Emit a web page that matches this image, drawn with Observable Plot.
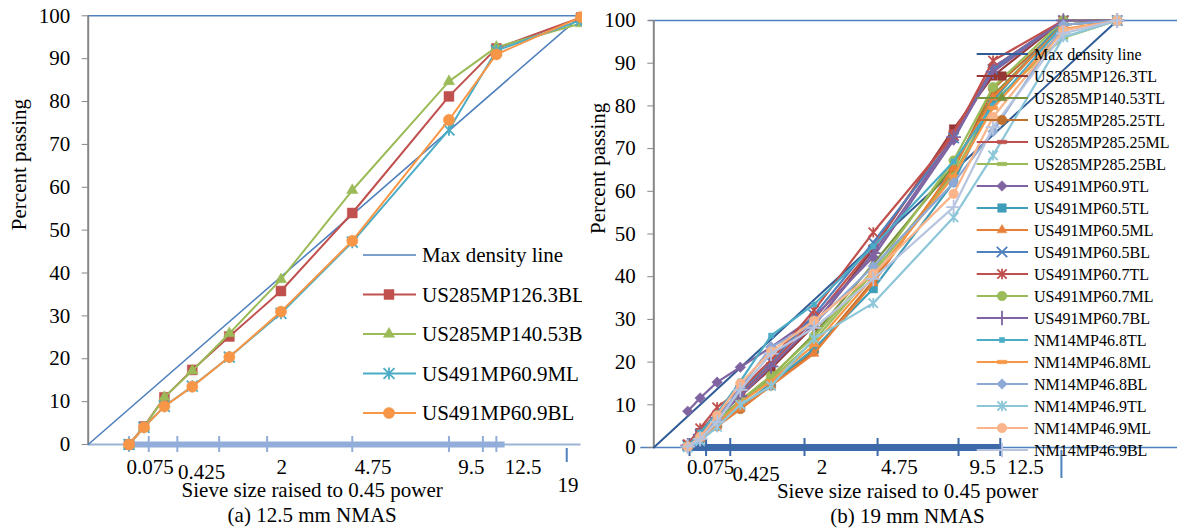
<!DOCTYPE html>
<html><head><meta charset="utf-8">
<script src="https://cdn.jsdelivr.net/npm/d3@7"></script>
<script src="https://cdn.jsdelivr.net/npm/@observablehq/plot@0.6"></script>
<style>
html,body{margin:0;padding:0;background:#fff;}
#wrap{position:relative;width:1177px;height:529px;overflow:hidden;font-family:"Liberation Serif","Times New Roman",serif;}
#left{position:absolute;left:0;top:0;}
#right{position:absolute;left:584px;top:0;}
</style></head><body><div id="wrap"><div id="left"></div><div id="right"></div></div>
<script>
// ---------------- DATA ----------------
// Panel (a) 12.5 mm NMAS
const sievesA = [0.075, 0.15, 0.3, 0.6, 1.18, 2.36, 4.75, 9.5, 12.5, 19];
const maxDensityA = {sieve: [0, 19], pct: [0, 100]};
const US285MP126_3BL  = [0, 4.2, 11, 17.4, 25.2, 35.8, 54, 81.2, 92.4, 99.6];
const US285MP140_53BL = [0, 4, 11, 17.2, 25.9, 38.5, 59.3, 84.7, 92.7, 98.2];
const US491MP60_9ML   = [0, 4, 8.9, 13.6, 20.4, 30.6, 47.2, 73.4, 91.9, 99];
const US491MP60_9BL   = [0, 4, 8.9, 13.5, 20.4, 31, 47.5, 75.7, 91, 99.7];
const namesA = ["US285MP126.3BL", "US285MP140.53BL", "US491MP60.9ML", "US491MP60.9BL"];
const valuesA = [US285MP126_3BL, US285MP140_53BL, US491MP60_9ML, US491MP60_9BL];
const tickPosA = [0.075, 0.18, 0.425, 1, 2, 4.75, 9.5, 11.6, 12.5];
const loneTickA = [17.8];
const axisBarA = [0.075, 13.1];
const tickLabelsA = ["0.075", "0.425", "2", "4.75", "9.5", "12.5", "19"];
const tickLabelAtA = [0.19, 0.726, 2.38, 5.62, 10.87, 14.4, 17.9];

// Panel (b) 19 mm NMAS
const sievesB = [0.075, 0.15, 0.3, 0.6, 1.18, 2.36, 4.75, 9.5, 12.5, 19, 25];
const maxDensityB = {sieve: [0, 25], pct: [0, 100]};
const US285MP126_3TL  = [0.5, 3.5, 7.5, 12, 18.5, 28.5, 46.5, 74.6, 87, 100, 100];
const US285MP140_53TL = [0.3, 3, 6.5, 11, 16.5, 26.5, 43, 66, 82.5, 99, 100];
const US285MP285_25TL = [0.2, 2, 5, 9, 14.5, 22.5, 39, 65, 84, 99, 100];
const US285MP285_25ML = [0.5, 4, 8, 12.5, 19.5, 30, 47, 74, 89, 100, 100];
const US285MP285_25BL = [0.3, 2.5, 6, 10.5, 16, 25, 41, 64, 81, 96, 100];
const US491MP60_9TL   = [8.5, 11.6, 15.3, 18.8, 23.5, 30.5, 44.6, 72, 89, 100, 100];
const US491MP60_5TL   = [0.3, 2, 5.5, 9.5, 15, 23.1, 37.2, 62.1, 81.3, 100, 100];
const US491MP60_5ML   = [0.2, 2, 5, 9, 14.5, 22, 38.5, 65.5, 82, 99, 100];
const US491MP60_5BL   = [0.5, 3, 7, 13, 20, 31, 48, 72.5, 88.5, 100, 100];
const US491MP60_7TL   = [0.8, 4.5, 9.4, 13.5, 20.5, 32.1, 50.4, 73, 90.6, 100, 100];
const US491MP60_7ML   = [0.3, 2.5, 6, 11, 16.8, 26, 41.5, 67.2, 84.4, 100, 100];
const US491MP60_7BL   = [0.5, 3, 7, 12, 19, 29, 45.5, 72.7, 88, 100, 100];
const NM14MP46_8TL    = [0.3, 3.5, 8, 15.5, 26.2, 33.5, 47.1, 67, 80, 99, 100];
const NM14MP46_8ML    = [0.2, 2, 5.5, 10.5, 15.5, 24, 40, 63.5, 79.5, 98, 100];
const NM14MP46_8BL    = [0.2, 2, 6.5, 14, 23.5, 29, 42.4, 62, 74, 99, 100];
const NM14MP46_9TL    = [0, 1.5, 4.8, 10, 14.4, 25.5, 33.8, 53.9, 68.4, 96.1, 100];
const NM14MP46_9ML    = [0.2, 2.5, 7.5, 15, 22.5, 29.7, 40.7, 59.4, 77.4, 97.7, 100];
const NM14MP46_9BL    = [0.2, 2, 6, 13.5, 22, 28, 39.5, 56.3, 75, 97, 100];
const namesB = ["US285MP126.3TL","US285MP140.53TL","US285MP285.25TL","US285MP285.25ML","US285MP285.25BL",
  "US491MP60.9TL","US491MP60.5TL","US491MP60.5ML","US491MP60.5BL","US491MP60.7TL","US491MP60.7ML",
  "US491MP60.7BL","NM14MP46.8TL","NM14MP46.8ML","NM14MP46.8BL","NM14MP46.9TL","NM14MP46.9ML","NM14MP46.9BL"];
const valuesB = [US285MP126_3TL, US285MP140_53TL, US285MP285_25TL, US285MP285_25ML, US285MP285_25BL,
  US491MP60_9TL, US491MP60_5TL, US491MP60_5ML, US491MP60_5BL, US491MP60_7TL, US491MP60_7ML,
  US491MP60_7BL, NM14MP46_8TL, NM14MP46_8ML, NM14MP46_8BL, NM14MP46_9TL, NM14MP46_9ML, NM14MP46_9BL];
const tickPosB = [0.084, 0.196, 0.456, 2.06, 4.96, 9.85, 13.1];
const loneTickB = [18.8];
const axisBarB = [0.075, 13.1];
const tickLabelsB = ["0.075", "0.425", "2", "4.75", "9.5", "12.5"];
const tickLabelAtB = [0.235, 0.871, 2.63, 6.1, 11.66, 15.3];

const yTicks = [0, 10, 20, 30, 40, 50, 60, 70, 80, 90, 100];
const maxLabel = "Max density line";
const xTitle = "Sieve size raised to 0.45 power";
const yTitle = "Percent passing";
const captionA = "(a) 12.5 mm NMAS";
const captionB = "(b) 19 mm NMAS";

// ---------------- STYLES ----------------
const colorsA = ["#C0504D", "#9BBB59", "#4BACC6", "#F79646"];
const symbolsA = ["square", "triangle", "star", "circle"];
const colorsB = ["#953735","#77933C","#C0702E","#C0504D","#9BBB59","#8064A2","#3E9DB8","#E8803A","#4F81BD",
  "#C0504D","#9BBB59","#8064A2","#4BACC6","#F79646","#8EA9D5","#8CC6D9","#F9B48A","#B7C4E0"];
const symbolsB = ["square","triangle","circle","dash","dash","diamond","square","triangle","times","star",
  "circle","plus","smallsq","dash","diamond","star","circle","plus"];

const excelStar = {draw(ctx, size){ const r = Math.sqrt(size)*0.55;
  ctx.moveTo(-r,-r); ctx.lineTo(r,r); ctx.moveTo(-r,r); ctx.lineTo(r,-r); ctx.moveTo(0,-r*1.1); ctx.lineTo(0,r*1.1);} };
const dashSym = {draw(ctx, size){ const w = Math.sqrt(size)*1.1, h = w*0.38; ctx.rect(-w/2,-h/2,w,h);} };
const smallSq = {draw(ctx, size){ const w = Math.sqrt(size)*0.6; ctx.rect(-w/2,-w/2,w,w);} };
const SYM = {square: d3.symbolSquare, triangle: d3.symbolTriangle, circle: d3.symbolCircle, diamond: d3.symbolDiamond2,
  times: d3.symbolTimes, star: excelStar, plus: d3.symbolPlus, dash: dashSym, smallsq: smallSq};
const STROKED = new Set(["times", "star", "plus"]);
const FONT = '"Liberation Serif","Times New Roman",serif';

function symR(sym, base) { return sym === "triangle" ? base*0.75 : base; }

function seriesMarks(sieves, names, values, colors, symbols, baseR, lw) {
  const marks = [];
  names.forEach((name, i) => {
    const rows = sieves.map((s, j) => ({sieve: s, pct: values[i][j]}));
    marks.push(Plot.line(rows, {x: "sieve", y: "pct", stroke: colors[i], strokeWidth: lw}));
    const sym = symbols[i];
    const o = {x: "sieve", y: "pct", symbol: SYM[sym], r: symR(sym, baseR)};
    if (STROKED.has(sym)) Object.assign(o, {fill: "none", stroke: colors[i], strokeWidth: 1.8});
    else Object.assign(o, {fill: colors[i], stroke: colors[i], strokeWidth: 0.5});
    marks.push(Plot.dot(rows, o));
  });
  return marks;
}

function drawLegend(svg, items, o) {
  const g = d3.select(svg).append("g").attr("font-family", FONT).attr("font-size", o.fontSize)
    .attr("text-anchor", "start");
  items.forEach((it, i) => {
    const y = o.y0 + i*o.step;
    g.append("line").attr("x1", o.x1).attr("x2", o.x2).attr("y1", y).attr("y2", y)
      .attr("stroke", it.color).attr("stroke-width", it.lw || o.lw);
    if (it.symbol) {
      const r = symR(it.symbol, o.r);
      const p = g.append("path").attr("transform", `translate(${o.xm},${y})`)
        .attr("d", d3.symbol(SYM[it.symbol], Math.PI*r*r)());
      if (STROKED.has(it.symbol)) p.attr("fill", "none").attr("stroke", it.color).attr("stroke-width", 1.8);
      else p.attr("fill", it.color).attr("stroke", it.color).attr("stroke-width", 0.5);
    }
    g.append("text").attr("x", o.xt).attr("y", y).attr("dy", "0.35em").attr("fill", "#000")
      .attr("text-anchor", "start").text(it.name);
  });
}

// ---------------- PANEL A ----------------
const axisGray = "#868686";
const plotA = Plot.plot({
  width: 582, height: 529,
  marginLeft: 87.7, marginRight: 1.5, marginTop: 15.3, marginBottom: 85,
  x: {type: "pow", exponent: 0.45, domain: [0, 19], axis: null},
  y: {domain: [0, 100], axis: null},
  style: {fontFamily: FONT, fontSize: "21px", overflow: "hidden", background: "#fff", color: "#000"},
  marks: [
    Plot.ruleY([100], {stroke: "#4F81BD", strokeWidth: 1.6}),
    Plot.ruleY([0], {stroke: "#9DB3D3", strokeWidth: 2}),
    Plot.ruleY([0], {x1: axisBarA[0], x2: axisBarA[1], stroke: "#92ADD9", strokeWidth: 6}),
    Plot.ruleX(tickPosA, {y1: 0, y2: 0, insetTop: -8, insetBottom: -8, stroke: "#92ADD9", strokeWidth: 2}),
    Plot.ruleX(loneTickA, {y1: 0, y2: 0, insetTop: 4, insetBottom: -18, stroke: "#4F81BD", strokeWidth: 2}),
    Plot.ruleX([0], {stroke: axisGray, strokeWidth: 2}),
    Plot.axisY({ticks: yTicks, tickSize: 6, tickPadding: 12, stroke: axisGray, fill: "#000", fontSize: 21, label: null}),
    Plot.line(maxDensityA.sieve.map((s, i) => ({sieve: s, pct: maxDensityA.pct[i]})),
      {x: "sieve", y: "pct", stroke: "#4F81BD", strokeWidth: 1.6}),
    ...seriesMarks(sievesA, namesA, valuesA, colorsA, symbolsA, 5.6, 2),
    Plot.text(tickLabelsA.map((t, i) => ({t, at: tickLabelAtA[i]})).filter(d => d.t !== "0.425" && d.t !== "19"),
      {x: "at", y: 0, text: "t", dy: 23, fontSize: 21, lineAnchor: "middle"}),
    Plot.text(tickLabelsA.map((t, i) => ({t, at: tickLabelAtA[i]})).filter(d => d.t === "0.425"),
      {x: "at", y: 0, text: "t", dy: 28, fontSize: 21, lineAnchor: "middle"}),
    Plot.text(tickLabelsA.map((t, i) => ({t, at: tickLabelAtA[i]})).filter(d => d.t === "19"),
      {x: "at", y: 0, text: "t", dy: 41, fontSize: 21, lineAnchor: "middle"}),
    Plot.text([xTitle], {frameAnchor: "bottom", dx: -22.4, dy: 46, fontSize: 21, lineAnchor: "middle"}),
    Plot.text([captionA], {frameAnchor: "bottom", dx: -22.4, dy: 71, fontSize: 21, lineAnchor: "middle"}),
    Plot.text([yTitle], {frameAnchor: "left", rotate: -90, dx: -68.7, fontSize: 21, lineAnchor: "middle"})
  ]
});
drawLegend(plotA, [{name: maxLabel, color: "#4F81BD", lw: 1.6}].concat(
  namesA.map((n, i) => ({name: n, color: colorsA[i], symbol: symbolsA[i]}))),
  {x1: 363, x2: 416, xm: 389, xt: 422, y0: 255, step: 39.5, fontSize: 21, r: 5.6, lw: 2});
document.getElementById("left").appendChild(plotA);

// ---------------- PANEL B ----------------
const plotB = Plot.plot({
  width: 593, height: 529,
  marginLeft: 69.3, marginRight: 60.3, marginTop: 20, marginBottom: 82,
  x: {type: "pow", exponent: 0.45, domain: [0, 25], axis: null},
  y: {domain: [0, 100], axis: null},
  style: {fontFamily: FONT, fontSize: "21px", overflow: "hidden", background: "transparent", color: "#000"},
  marks: [
    Plot.ruleY([100], {stroke: "#4F81BD", strokeWidth: 1.6, insetLeft: -5, insetRight: -61}),
    Plot.ruleY([0], {stroke: "#4F81BD", strokeWidth: 1.6, insetLeft: -13, insetRight: -61}),
    Plot.ruleY([0], {x1: axisBarB[0], x2: axisBarB[1], stroke: "#3C69A8", strokeWidth: 7}),
    Plot.ruleX(tickPosB, {y1: 0, y2: 0, insetTop: -9, insetBottom: -9, stroke: "#3C69A8", strokeWidth: 2}),
    Plot.ruleX(loneTickB, {y1: 0, y2: 0, insetTop: 3, insetBottom: -31, stroke: "#4F81BD", strokeWidth: 2}),
    Plot.ruleX([0], {stroke: axisGray, strokeWidth: 2}),
    Plot.axisY({ticks: yTicks, tickSize: 6, tickPadding: 12, stroke: axisGray, fill: "#000", fontSize: 21, label: null}),
    Plot.line(maxDensityB.sieve.map((s, i) => ({sieve: s, pct: maxDensityB.pct[i]})),
      {x: "sieve", y: "pct", stroke: "#2F5B96", strokeWidth: 2}),
    ...seriesMarks(sievesB, namesB, valuesB, colorsB, symbolsB, 4.8, 2.2),
    Plot.text(tickLabelsB.map((t, i) => ({t, at: tickLabelAtB[i]})).filter(d => d.t !== "0.425"),
      {x: "at", y: 0, text: "t", dy: 20, fontSize: 21, lineAnchor: "middle"}),
    Plot.text(tickLabelsB.map((t, i) => ({t, at: tickLabelAtB[i]})).filter(d => d.t === "0.425"),
      {x: "at", y: 0, text: "t", dy: 27, fontSize: 21, lineAnchor: "middle"}),
    Plot.text([xTitle], {frameAnchor: "bottom", dx: 22, dy: 44, fontSize: 21, lineAnchor: "middle"}),
    Plot.text([captionB], {frameAnchor: "bottom", dx: 22, dy: 69, fontSize: 21, lineAnchor: "middle"}),
    Plot.text([yTitle], {frameAnchor: "left", rotate: -90, dx: -55.3, fontSize: 21, lineAnchor: "middle"})
  ]
});
drawLegend(plotB, [{name: maxLabel, color: "#2F5B96", lw: 2}].concat(
  namesB.map((n, i) => ({name: n, color: colorsB[i], symbol: symbolsB[i]}))),
  {x1: 392.7, x2: 444, xm: 418, xt: 450, y0: 54, step: 22, fontSize: 16, r: 4.8, lw: 2.2});
document.getElementById("right").appendChild(plotB);
</script></body></html>
